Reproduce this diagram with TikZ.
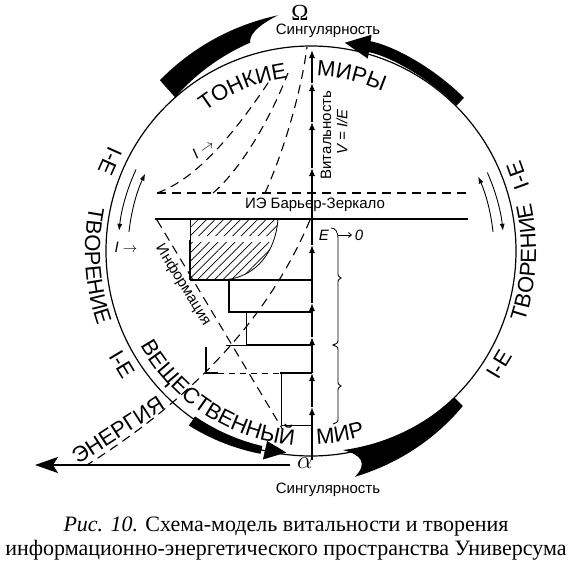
\documentclass[tikz,border=0pt]{standalone}
\usepackage{fontspec}
\setmainfont{Liberation Serif}
\setsansfont{Liberation Sans}
\usetikzlibrary{arrows.meta,decorations.text,patterns.meta,calc}
\begin{document}
\begin{tikzpicture}[x=1pt,y=-1pt,font=\sffamily,
  ax/.style={line width=1.1pt,-{Latex[length=8pt,width=6pt]}},
  dsh/.style={line width=1.1pt,dash pattern=on 9pt off 6pt},
  smallarc/.style={line width=0.9pt,-{Latex[length=7pt,width=5pt]}},
  ringtxt/.style={font=\sffamily\fontsize{22}{22}\selectfont},
  smalltxt/.style={font=\sffamily\fontsize{15}{15}\selectfont}]
\useasboundingbox (0,0) rectangle (571,562);
\fill[white] (0,0) rectangle (571,562);

\begin{scope}[shift={(311,251)}]
 \draw[line width=1.2pt] (0,0) circle (205);
 % top-right black arrow
 \draw[line width=11pt,-{Triangle[length=26pt,width=22pt]}] (-45:211) arc (-45:-81:211);
 % bottom-left black arrow
 \fill plot[domain=125:104,samples=30] ({\x}:{213-4*(125-\x)/21}) -- plot[domain=104:125,samples=30] ({\x}:{202-1*(125-\x)/21}) -- cycle;
 \fill (103:214) -- (97:203) -- (103:195) -- cycle;
 % top-left horn
 \fill plot[domain=228.5:262,samples=30] ({\x}:{228+10*(\x-228.5)/33.5}) -- (262:238) .. controls (255:230) and (254:222) .. (253.7:217) -- plot[domain=253.7:228.5,samples=30] ({\x}:{205+12*(\x-228.5)/25.2}) -- cycle;
 % bottom-right horn
 \fill plot[domain=45.6:79,samples=30] ({\x}:{217+13*(\x-45.6)/33.4}) -- (79:230) .. controls (75:220) and (76:210) .. (80.9:201.6) -- plot[domain=80.9:45.6,samples=30] ({\x}:{205-3.4*(\x-45.6)/35.3}) -- cycle;
 % small arcs
 \draw[smallarc] (205:193) arc (205:186:193);
 \draw[smallarc] (186:183) arc (186:205:183);
 \draw[smallarc] (336:193) arc (336:354:193);
 \draw[smallarc] (354:183) arc (354:336:183);
 % ring texts
 \node[ringtxt,rotate=-114] at (204:220) {I-E};
 \node[ringtxt,rotate=-59] at (149:220) {I-E};
 \node[ringtxt,rotate=110] at (340:220) {I-E};
 \node[ringtxt,rotate=59] at (31:220) {I-E};
 \path[decorate,decoration={text along path,text align=center,text={|\sffamily\fontsize{22}{22}\selectfont|ТВОРЕНИЕ}}] (221:226) arc (221:131:226);
 \path[decorate,decoration={text along path,text align=center,text={|\sffamily\fontsize{22}{22}\selectfont|ТВОРЕНИЕ}}] (48:225) arc (48:-42:225);
 \path[decorate,decoration={text along path,text align=center,text={|\sffamily\fontsize{22}{22}\selectfont|ТОНКИЕ}}] (207.5:175) arc (207.5:287.5:175);
 \path[decorate,decoration={text along path,text align=center,text={|\sffamily\fontsize{22}{22}\selectfont|МИРЫ}}] (253:175) arc (253:313:175);
 \path[decorate,decoration={text along path,text align=center,text={|\sffamily\fontsize{22}{22}\selectfont|ВЕЩЕСТВЕННЫЙ}}] (173:195) arc (173:73:195);
 \path[decorate,decoration={text along path,text align=center,text={|\sffamily\fontsize{22}{22}\selectfont|МИР}}] (111:193) arc (111:51:193);
\end{scope}

% barrier lines
\draw[dsh] (157,193) -- (468,193);
\draw[line width=1.6pt] (155,219) -- (468,219);
\node[smalltxt] at (315,205) {ИЭ Барьер-Зеркало};

% hatched zone
\begin{scope}
 \clip (185,219) rectangle (285,236) (185,242) rectangle (285,285);
 \fill[pattern={Lines[angle=45,distance=6pt,line width=0.7pt]}] (190,219) -- (278,219) .. controls (275,258) and (250,280) .. (220,280) -- (190,280) -- cycle;
\end{scope}
\draw[line width=0.8pt] (278,219) .. controls (275,258) and (250,280) .. (220,280);
\draw[line width=0.7pt] (190,219) -- (190,240);
\draw[line width=1.3pt] (190,240) -- (190,280);

% steps
\draw[line width=1.8pt] (190,280) -- (312,280);
\draw[line width=1.5pt] (229,280) -- (229,312) -- (312,312);
\draw[line width=1pt] (246,312) -- (246,345);
\draw[line width=0.8pt] (226,345) -- (246,345);
\draw[line width=1.4pt] (246,345) -- (312,345);
\draw[line width=1.4pt] (206,347) -- (206,373) -- (218,373);
\draw[line width=1pt,dash pattern=on 6pt off 5pt] (218,373) -- (280,373);
\draw[line width=1.4pt] (280,373) -- (312,373);
\draw[line width=1pt] (281,373) -- (281,425) -- (312,425);

% axis
\foreach \a/\b in {460/407,407/373,373/337,337/303,303/245,245/168,168/122,122/83,83/50}
  \draw[ax] (312,\a) -- (312,\b);

% dashed curves
\draw[dsh] (157,193) .. controls (200,178) and (240,125) .. (270,80);
\draw[dsh] (213,193) .. controls (240,170) and (270,120) .. (288,73);
\draw[dsh] (265,193) .. controls (280,160) and (300,100) .. (307,47);
\draw[dsh] (310,220) .. controls (268,320) and (190,400) .. (87,465);
\draw[dsh] (157,220) -- (283,430);

% labels
\node[smalltxt,rotate=-58.4] at (183,285) {Информация};
\node[smalltxt] at (126,247) {\textit{I} $\rightarrow$};
\node[smalltxt,rotate=35] at (203,149) {\textit{I} $\rightarrow$};
\node[smalltxt,rotate=90] at (326,135) {Витальность};
\node[smalltxt,rotate=90] at (342,132) {\textit{V = I/E}};
\node[smalltxt] at (324,235) {\textit{E}};
\node[smalltxt] at (359,235) {\textit{0}};
\draw[line width=0.8pt] (331,228) .. controls (336,228) and (338,232) .. (338,240);
\draw[line width=0.8pt,-{Straight Barb[length=3pt,width=5pt]}] (338,235) -- (352,235);
\draw[line width=0.9pt] (338,240) -- (338,272) .. controls (338,276) .. (341,278) .. controls (338,280) .. (338,284)
  -- (338,339) .. controls (338,343) .. (333,345) .. controls (338,347) .. (338,351)
  -- (338,380) .. controls (338,384) .. (341,386) .. controls (338,388) .. (338,392)
  -- (338,418) .. controls (338,422) .. (333,424);

% bottom arrow
\draw[line width=2.2pt,-{Stealth[length=23pt,width=16pt,inset=5pt]}] (290,465) -- (35,465);
\node[ringtxt,rotate=33] at (118,430) {ЭНЕРГИЯ};

% singularities
\node[font=\rmfamily\fontsize{23}{23}\selectfont,inner sep=0pt] at (300,13) {Ω};
\node[smalltxt] at (328,31) {Сингулярность};
\node[font=\fontsize{24}{24}\selectfont] at (305,463) {$\alpha$};
\node[smalltxt] at (328,490) {Сингулярность};

% caption
\node[font=\fontsize{22}{23}\selectfont] at (286,527) {\textit{Рис. 10.} Схема-модель витальности и творения};
\node[font=\fontsize{22}{23}\selectfont] at (286,550) {информационно-энергетического пространства Универсума};
\end{tikzpicture}
\end{document}
